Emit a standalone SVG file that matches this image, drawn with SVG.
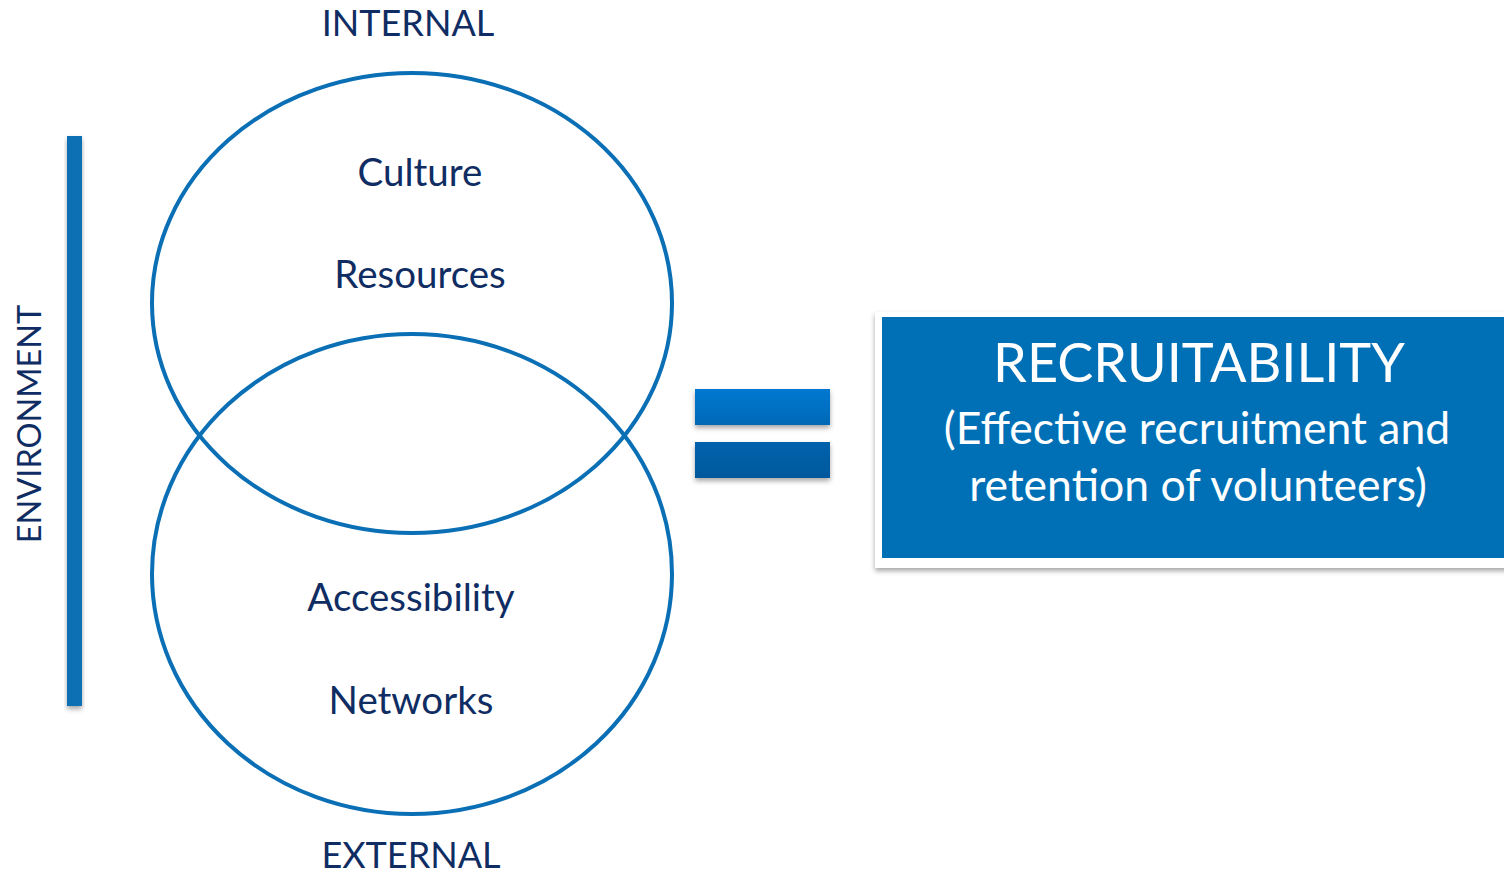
<svg xmlns="http://www.w3.org/2000/svg" width="1504" height="876" viewBox="0 0 1504 876">
<defs>
<style>
.lbl{font-family:Lato,"Open Sans","Liberation Sans",sans-serif;fill:#0f2d63;text-anchor:middle}
.ring{fill:none;stroke:#0a6fb5;stroke-width:4}
.wt{font-family:Lato,"Open Sans","Liberation Sans",sans-serif;fill:#ffffff;text-anchor:middle}
</style>
<linearGradient id="g1" x1="0" y1="0" x2="0" y2="1"><stop offset="0" stop-color="#0078d2"/><stop offset="1" stop-color="#0068b6"/></linearGradient>
<linearGradient id="g2" x1="0" y1="0" x2="0" y2="1"><stop offset="0" stop-color="#0062ac"/><stop offset="1" stop-color="#00589c"/></linearGradient>
<filter id="sh" x="-20%" y="-20%" width="140%" height="150%"><feDropShadow dx="0" dy="3" stdDeviation="2.5" flood-color="#000" flood-opacity="0.35"/></filter>
</defs>
<rect width="1504" height="876" fill="#ffffff"/>
<g id="environment">
<rect x="67" y="136" width="15" height="570" fill="#0a6fb5" filter="url(#sh)"/>
<text class="lbl" font-size="32.5" transform="translate(41,424) rotate(-90)">ENVIRONMENT</text>
</g>
<g id="internal">
<ellipse class="ring" cx="412" cy="303" rx="260" ry="230"/>
<text class="lbl" font-size="36" x="408" y="36">INTERNAL</text>
<text class="lbl" font-size="38.5" x="420" y="186">Culture</text>
<text class="lbl" font-size="38.5" x="420" y="288">Resources</text>
</g>
<g id="external">
<ellipse class="ring" cx="412" cy="574" rx="260" ry="240"/>
<text class="lbl" font-size="38.5" x="411" y="611">Accessibility</text>
<text class="lbl" font-size="38.5" x="411" y="714">Networks</text>
<text class="lbl" font-size="36" x="411" y="868">EXTERNAL</text>
</g>
<g id="equals">
<rect x="695" y="389" width="135" height="36" fill="url(#g1)" filter="url(#sh)"/>
<rect x="695" y="442" width="135" height="36" fill="url(#g2)" filter="url(#sh)"/>
</g>
<g id="recruitability">
<rect x="875" y="312" width="640" height="256" fill="#ffffff" filter="url(#sh)"/>
<rect x="882" y="317" width="630" height="241" fill="#0070b6"/>
<text class="wt" font-size="54" x="1199" y="382">RECRUITABILITY</text>
<text class="wt" font-size="44.5" x="1197" y="444">(Effective recruitment and</text>
<text class="wt" font-size="44.5" x="1198" y="501">retention of volunteers)</text>
</g>
<g id="connectors"></g>
</svg>
